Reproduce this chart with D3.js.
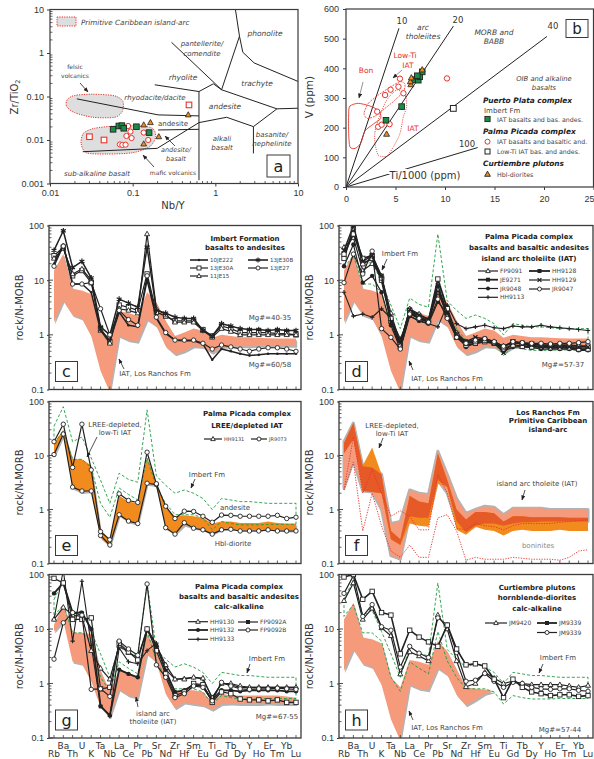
<!DOCTYPE html>
<html>
<head>
<meta charset="utf-8">
<script src="https://cdn.jsdelivr.net/npm/d3@7"></script>
<style>
  body { margin: 0; background: #fff; }
  svg { display: block; font-family: "DejaVu Sans", Verdana, sans-serif; }
</style>
</head>
<body>
<svg id="fig" width="594" height="759"></svg>
<script>
// ---------------- shared ----------------
const elements = ["Rb","Ba","Th","U","K","Ta","Nb","La","Ce","Pr","Pb","Sr","Nd","Zr","Hf","Sm","Eu","Ti","Gd","Tb","Dy","Y","Ho","Er","Tm","Yb","Lu"];
const spiderTicks = [0.1, 1, 10, 100];
const spiderTickLabels = ["0.1", "1", "10", "100"];

// ---------------- panel a : Nb/Y vs Zr/TiO2 ----------------
const aXTicks = [0.01, 0.1, 1, 10];
const aXTickLabels = ["0.01", "0.1", "1", "10"];
const aYTicks = [0.001, 0.01, 0.1, 1, 10];
const aYTickLabels = ["0.001", "0.01", "0.10", "1", "10"];
const aImbertNbY  = [0.058, 0.068, 0.074, 0.078, 0.111, 0.158];
const aImbertZrTi = [0.0176, 0.021, 0.0214, 0.0186, 0.0202, 0.0148];
const aPalmaNbY   = [0.088, 0.094, 0.084, 0.097, 0.070, 0.075, 0.082, 0.154, 0.136];
const aPalmaZrTi  = [0.021, 0.0156, 0.0124, 0.0111, 0.0079, 0.0077, 0.0078, 0.010, 0.0148];
const aLowTiNbY   = [0.030, 0.045, 0.48];
const aLowTiZrTi  = [0.0119, 0.010, 0.064];
const aHblNbY     = [0.136, 0.164, 0.136, 0.207, 0.47];
const aHblZrTi    = [0.0222, 0.0251, 0.0081, 0.0119, 0.0378];
const aFelsicField = [[0.0161,0.0838],[0.0197,0.1054],[0.033,0.113],[0.0604,0.1036],[0.0763,0.0767],[0.0748,0.0451],[0.0604,0.0333],[0.033,0.0333],[0.0197,0.0428],[0.0159,0.0588]];
const aMaficField  = [[0.0238,0.00838],[0.0254,0.01426],[0.0346,0.0186],[0.0633,0.021],[0.1216,0.021],[0.1734,0.0186],[0.19,0.0119],[0.161,0.00702],[0.1,0.0051],[0.0479,0.00475],[0.0274,0.0051]];
const aBoundaries = [
  [[1.75,10],[1.96,2.43],[2.15,1.04],[2.95,0.59],[10,0.222]],
  [[1.96,2.43],[1.19,0.143]],
  [[0.295,1.76],[1.19,0.143],[5.56,0.052]],
  [[0.634,0.130],[0.946,0.196],[1.19,0.143]],
  [[0.185,0.186],[0.634,0.130]],
  [[0.0211,0.0883],[0.203,0.0378],[0.634,0.0358]],
  [[0.634,0.130],[0.634,0.00119]],
  [[0.0249,0.00538],[0.198,0.00642],[0.634,0.0251],[1.37,0.0333],[2.89,0.0203],[5.56,0.052],[10,0.0538]],
  [[0.203,0.017],[0.634,0.0176]],
  [[2.89,0.0203],[2.89,0.00492]]
];

// ---------------- panel b : Ti/1000 vs V ----------------
const bXTicks = [0, 5, 10, 15, 20, 25];
const bYTicks = [0, 100, 200, 300, 400, 500, 600];
const bImbertTi = [4.04, 5.62, 6.9, 7.3, 7.45, 7.7, 7.2];
const bImbertV  = [225, 271, 362, 360, 372, 388, 375];
const bPalmaTi  = [5.45, 5.3, 4.5, 3.95, 5.8, 3.15, 3.25, 3.6, 4.4, 10.2];
const bPalmaV   = [365, 338, 328, 310, 316, 254, 203, 210, 212, 366];
const bLowTiTi  = [10.84];
const bLowTiV   = [265];
const bHblTi    = [4.1, 6.55, 6.5, 6.6, 7.7];
const bHblV     = [178, 345, 355, 368, 395];
const bRatios    = [10, 20, 40, 100];
const bRatioEnds = [5.35, 10.85, 20.3, 13.3];
const bBonField   = [[0.40,273],[1.25,282],[2.42,273],[3.37,256],[3.5,231],[2.76,212],[1.92,189],[1.48,147],[0.91,130],[0.40,135],[0.27,180],[0.27,248]];
const bLowTiField = [[1.82,248],[2.26,282],[3.27,310],[4.44,336],[5.45,355],[5.96,347],[5.79,321],[4.95,293],[3.94,265],[2.93,239],[2.15,231]];
const bIATField   = [[2.93,147],[2.93,186],[3.37,237],[4.11,293],[5.12,327],[5.96,310],[6.13,271],[5.79,237],[5.45,180],[4.78,135],[4.11,104],[3.27,107]];

// ---------------- spider diagrams (rock / N-MORB) ----------------
const losRanchosUpper = [15,30,7,6.5,5.5, 1.3,0.85,2.7,2.5,2.2, 6,3.9,1.8,0.95,1.1, 1.3,1.2,0.88,1.0,0.95, 0.9,0.9,0.88,0.87,0.86, 0.86,0.86];
const losRanchosLower = [1.7,4.2,2.3,2.0,0.95, 0.22,0.09,0.95,0.8,0.75, 1.9,1.45,0.62,0.44,0.5, 0.62,0.6,0.47,0.6,0.62, 0.62,0.62,0.63,0.63,0.63, 0.63,0.63];
const imbertUpper = [35,80,18,22,9, 3.5,1.3,4.7,3.6,3.2, 70,4.2,2.8,2.0,2.3, 2.0,1.6,1.0,1.6,1.5, 1.4,1.4,1.35,1.3,1.3, 1.3,1.3];
const imbertLower = [17,28,8.5,8.5,6, 1.3,0.72,2.5,1.9,1.5, 9,2.6,1.3,0.8,0.8, 0.8,0.7,0.42,0.6,0.55, 0.52,0.52,0.52,0.53,0.53, 0.53,0.53];

// c: Imbert Formation
const c10JE222 = [20,45,8.5,8.5,6, 1.2,0.8,2.6,1.5,1.4, 10,2.0,1.05,0.8,0.78, 0.78,0.68,0.35,0.55,0.5, 0.45,0.42,0.43,0.45,0.45, 0.45,0.45];
const c13JE30A = [28,40,12,15,9, 1.3,0.75,3.5,3.2,2.8, 13,2.6,2.2,1.8,1.8, 1.8,1.25,0.95,1.45,1.3, 1.1,1.1,1.1,1.1,1.05, 1.05,1.0];
const c11JE15  = [25,38,13,16,10, 1.2,0.7,3.0,2.8,2.5, 70,3.0,2.3,1.7,1.7, 1.7,1.2,0.9,1.3,1.15, 1.0,1.0,1.0,1.0,1.0, 1.0,1.0];
const c13JE30B = [35,80,17,22,11, 1.4,1.0,4.5,3.8,3.2, 40,2.8,2.5,2.1,2.0, 2.0,1.2,0.95,1.6,1.45, 1.3,1.25,1.25,1.2,1.25, 1.2,1.2];
const c13JE27  = [18,42,8.5,8.5,9, 3.0,1.0,2.8,1.9,1.5, 12,2.1,1.1,0.8,0.8, 0.8,0.7,0.55,0.65,0.6, 0.55,0.5,0.55,0.58,0.58, 0.55,0.5];

// d: Palma Picada IAT
const dFP9091 = [40,60,15,20,12, 2.5,0.7,3.0,2.4,1.9, 6,2.5,1.1,0.75,0.8, 0.85,0.75,0.62,0.72,0.68, 0.62,0.6,0.6,0.6,0.6, 0.55,0.55];
const dJE9271 = [25,90,20,25,10, 1.8,0.6,2.6,2.0,1.7, 7,2.2,0.9,0.65,0.7, 0.75,0.7,0.55,0.65,0.62, 0.6,0.6,0.58,0.58,0.58, 0.55,0.55];
const dJR9048 = [18,45,9,12,6, 1.5,0.55,2.2,1.8,1.6, 4,2.5,1.0,0.6,0.7, 0.75,0.7,0.5,0.6,0.6, 0.58,0.55,0.55,0.55,0.55, 0.52,0.52];
const dHH9113 = [6,2.2,2.4,2.1,3, 2.0,0.85,2.2,1.8,1.6, 1.4,3.5,1.6,1.3,1.4, 1.5,1.35,1.3,1.45,1.4, 1.4,1.5,1.4,1.35,1.3, 1.25,1.2];
const dHH9128 = [30,70,25,28,11, 2.0,0.65,2.8,2.1,1.8, 10.5,3.0,1.0,0.7,0.75, 0.8,0.72,0.6,0.75,0.7, 0.68,0.65,0.65,0.65,0.65, 0.62,0.62];
const dHH9129 = [35,100,22,28,12, 1.7,0.7,2.9,2.3,1.9, 8,2.5,1.0,0.75,0.9, 0.85,0.72,0.47,0.72,0.68, 0.65,0.6,0.6,0.6,0.6, 0.6,0.6];
const dJR9047 = [9,30,13,34,1.3, 0.9,0.55,2.4,2.0,1.7, 4.5,2.0,0.9,0.7,0.8, 0.85,0.75,0.62,0.75,0.72, 0.7,0.7,0.68,0.7,0.7, 0.72,0.75];

// e: LREE-depleted IAT
const eFieldUpper = [17,30,8.5,8.5,6.5, 0.42,0.28,1.8,1.4,1.3, 9,3.0,1.1,0.75,0.78, 0.75,0.7,0.55,0.6,0.6, 0.56,0.56,0.56,0.6,0.56, 0.55,0.55];
const eFieldLower = [10,24,2.5,2.1,2.2, 0.3,0.21,0.78,0.6,0.54, 3.0,2.8,0.45,0.36,0.52, 0.46,0.43,0.36,0.44,0.45, 0.42,0.42,0.42,0.44,0.42, 0.41,0.41];
const eJR9073 = [18,38,6,38,5.4, 0.39,0.275,1.95,1.47,1.35, 11.5,3.0,1.15,0.68,0.93, 0.92,0.75,0.58,0.79,0.78, 0.75,0.75,0.75,0.75,0.78, 0.68,0.72];
const eHH9131 = [10.4,25,2.6,2.2,2.2, 0.33,0.22,0.8,0.61,0.55, 3.06,2.9,0.46,0.35,0.57, 0.45,0.42,0.35,0.42,0.43, 0.4,0.4,0.4,0.42,0.4, 0.4,0.4];

// f: Los Ranchos Fm fields
const fIATUpper = [18,40,6.3,6,4.5, 0.55,0.6,2.3,2.0,1.9, 12,4.5,1.6,0.85,1.0, 1.15,1.1,0.8,1.05,1.05, 1.05,1.05,1.0,1.0,1.0, 1.0,1.0];
const fIATLower = [2.5,8,2.2,2.1,1.0, 0.14,0.12,0.75,0.7,0.7, 3.5,2.0,0.6,0.38,0.5, 0.55,0.55,0.5,0.55,0.58, 0.58,0.6,0.6,0.6,0.6, 0.6,0.6];
const fLowTiUpper = [17,40,6.5,14,4.5, 0.4,0.28,1.8,1.4,1.3, 11,3.5,1.0,0.65,0.9, 0.9,0.85,0.6,0.75,0.75, 0.72,0.72,0.72,0.72,0.7, 0.7,0.7];
const fLowTiLower = [11,20,2.2,2.1,2.0, 0.28,0.22,0.55,0.5,0.48, 3.0,2.6,0.42,0.34,0.48, 0.42,0.4,0.33,0.4,0.42, 0.4,0.4,0.4,0.42,0.4, 0.4,0.4];
const fBonUpper = [2.3,22,2.0,5.5,2.0, 0.75,0.95,0.75,0.42,0.42, 4.5,2.0,0.45,0.42,0.55, 0.5,0.48,0.42,0.5,0.55, 0.55,0.55,0.55,0.58,0.6, 0.62,0.65];
const fBonLower = [2.3,7.5,0.4,2.0,0.5, 0.17,0.13,0.22,0.13,0.13, 0.7,0.8,0.4,0.115,0.13, 0.12,0.12,0.12,0.13,0.125, 0.12,0.12,0.12,0.115,0.13, 0.17,0.18];

// g: Palma Picada calc-alkaline
const gBandUpper = [12,28,8.5,8.5,8, 1.7,0.7,1.8,1.6,1.3, 8,4,1.3,0.7,0.75, 0.75,0.7,0.45,0.65,0.6, 0.6,0.6,0.6,0.6,0.6, 0.58,0.55];
const gBandLower = [9,14,2.5,2.3,1.1, 0.37,0.24,0.78,0.6,0.55, 3.5,2.5,0.65,0.35,0.45, 0.42,0.4,0.33,0.42,0.43, 0.42,0.42,0.42,0.43,0.42, 0.42,0.42];
const gHH9130  = [15,25,18,17,4, 1.9,1.2,5.0,3.7,3.0, 10,5.0,2.2,1.2,1.2, 1.3,1.25,0.55,1.0,1.0, 0.9,0.85,0.85,0.85,0.85, 0.85,0.85];
const gHH9132  = [45,70,20,20,10, 0.38,0.26,1.8,1.5,1.3, 10,5.0,1.7,0.7,0.75, 0.95,0.9,0.5,0.75,0.75, 0.72,0.75,0.75,0.75,0.75, 0.72,0.72];
const gHH9133  = [15,120,6,75,5, 0.4,0.25,4.5,2.5,2.3, 4,5.5,1.8,1.2,1.25, 1.3,1.2,0.55,1.0,0.95, 0.85,0.85,0.85,0.85,0.85, 0.85,0.85];
const gFP9092A = [85,70,15,15,16, 0.8,0.85,5.5,3.8,2.7, 10,4.0,1.5,0.6,0.7, 1.0,0.95,0.45,0.7,0.65, 0.52,0.5,0.5,0.48,0.5, 0.45,0.45];
const gFP9092B = [2.8,13,20,18,0.78, 0.8,0.58,6.0,4.3,3.3, 67,2.2,1.3,0.55,0.65, 0.9,0.85,0.48,1.05,0.9, 0.8,0.78,0.8,0.8,0.82, 0.8,0.78];

// h: Curtiembre plutons
const hBandUpper = [15,30,7,6.5,5.5, 1.3,0.85,2.7,2.5,2.2, 6,3.9,1.8,0.85,0.8, 0.78,0.72];
const hBandLower = [1.7,4.2,2.3,2.0,0.95, 0.22,0.09,0.95,0.8,0.75, 1.9,1.45,0.62,0.4,0.5, 0.65,0.72];
const hJM9420   = [33,70,15,24,10.5, 7.5,1.49,3.8,3.2,2.6, 18,10,2.6,0.87,1.0, 1.6,1.25,1.0,1.1,1.0, 0.95,0.95,0.95,0.95,0.9, 0.85,0.92];
const hJM9339a  = [90,100,35,49,20, 18,3.5,9.5,7.1,5.8, 4.8,11.8,4.3,2.2,2.3, 2.1,1.2,0.55,1.2,0.85, 0.7,0.65,0.6,0.62,0.62, 0.58,0.6];
const hJM9339b  = [45,95,17,28,11, 9.5,2.0,4.8,3.6,3.0, 16,11.9,3.7,1.1,1.15, 1.53,1.1,0.85,1.05,1.0, 0.85,0.8,0.78,0.8,0.8, 0.75,0.72];

// ---------------- styling ----------------
const INK = "#222", SOFT = "#444", FRAME = "#3a3a3a";
const SALMON = "#f59b7c", SHADOW = "#b3b3b3", ORANGE = "#f28b1e", DARKORANGE = "#e65a27";
const GREEN = "#1f9d3f", RED = "#e8332b", GFIELD = "#dedede";
const SQGREEN = "#1b8c46", TRIORANGE = "#f08a1d";

const svg = d3.select("#fig");
svg.append("rect").attr("width", 594).attr("height", 759).attr("fill", "#fff");
const defs = svg.append("defs");
defs.append("marker").attr("id", "arr").attr("viewBox", "0 0 10 10")
  .attr("refX", 9).attr("refY", 5).attr("markerUnits", "userSpaceOnUse")
  .attr("markerWidth", 5).attr("markerHeight", 5).attr("orient", "auto")
  .append("path").attr("d", "M0,1L10,5L0,9z").attr("fill", INK);

function text(g, x, y, str, o = {}) {
  return g.append("text").attr("x", x).attr("y", y)
    .attr("text-anchor", o.anchor || "middle")
    .attr("font-size", o.size || 7)
    .attr("font-style", o.italic ? "italic" : null)
    .attr("font-weight", o.bold ? "bold" : null)
    .attr("fill", o.color || SOFT)
    .text(str);
}
function arrow(g, x1, y1, x2, y2, color) {
  g.append("line").attr("x1", x1).attr("y1", y1).attr("x2", x2).attr("y2", y2)
    .attr("stroke", color || INK).attr("stroke-width", 0.8).attr("marker-end", "url(#arr)");
}
function minorTicks(lo, hi) {
  const out = [];
  for (let e = Math.floor(Math.log10(lo)); e < Math.log10(hi); e++)
    for (let k = 2; k <= 9; k++) { const v = k * Math.pow(10, e); if (v > lo && v < hi) out.push(v); }
  return out;
}
// data symbols
function mark(sel, type, cx, cy, o = {}) {
  const r = o.r || 2.3, sw = o.sw || 0.9, st = o.stroke || INK;
  const t = `translate(${cx},${cy})`;
  switch (type) {
    case "circle":
      sel.append("circle").attr("cx", cx).attr("cy", cy).attr("r", r).attr("fill", o.fill || "#fff").attr("stroke", st).attr("stroke-width", sw); break;
    case "dot":
      sel.append("circle").attr("cx", cx).attr("cy", cy).attr("r", r * 0.6).attr("fill", INK); break;
    case "fdot":
      sel.append("circle").attr("cx", cx).attr("cy", cy).attr("r", r).attr("fill", INK); break;
    case "square":
      sel.append("rect").attr("x", cx - r).attr("y", cy - r).attr("width", 2 * r).attr("height", 2 * r)
        .attr("fill", o.fill || "#fff").attr("stroke", st).attr("stroke-width", sw); break;
    case "fsquare":
      sel.append("rect").attr("x", cx - r).attr("y", cy - r).attr("width", 2 * r).attr("height", 2 * r).attr("fill", INK); break;
    case "triangle":
      sel.append("path").attr("transform", t)
        .attr("d", `M0,${-r * 1.25}L${r * 1.15},${r * 0.8}L${-r * 1.15},${r * 0.8}Z`)
        .attr("fill", o.fill || "#fff").attr("stroke", st).attr("stroke-width", sw); break;
    case "asterisk": {
      const a = r * 1.3, b = a * 0.866, h = a * 0.5;
      sel.append("path").attr("transform", t)
        .attr("d", `M0,${-a}V${a}M${-b},${-h}L${b},${h}M${-b},${h}L${b},${-h}`)
        .attr("stroke", INK).attr("stroke-width", 1.2).attr("fill", "none"); break;
    }
    case "plus":
      sel.append("path").attr("transform", t).attr("d", `M${-r},0H${r}M0,${-r}V${r}`)
        .attr("stroke", INK).attr("stroke-width", 1.1).attr("fill", "none"); break;
    case "times": {
      const a = r * 0.95;
      sel.append("path").attr("transform", t).attr("d", `M${-a},${-a}L${a},${a}M${-a},${a}L${a},${-a}`)
        .attr("stroke", INK).attr("stroke-width", 1.3).attr("fill", "none"); break;
    }
  }
}

// ================= panel a =================
(function () {
  const L = 50, R = 298, T = 9.5, B = 183.5;
  const g = svg.append("g");
  const x = d3.scaleLog().domain([0.01, 10]).range([L, R]);
  const y = d3.scaleLog().domain([0.001, 10]).range([B, T]);
  defs.append("clipPath").attr("id", "clip-a").append("rect").attr("x", L).attr("y", T).attr("width", R - L).attr("height", B - T);
  const body = g.append("g").attr("clip-path", "url(#clip-a)");
  const field = d3.line().x(d => x(d[0])).y(d => y(d[1])).curve(d3.curveCardinalClosed.tension(0.2));
  [aFelsicField, aMaficField].forEach(f => {
    body.append("path").datum(f).attr("d", field).attr("fill", GFIELD)
      .attr("stroke", RED).attr("stroke-width", 1).attr("stroke-dasharray", "1.2,1.2");
  });
  const bl = d3.line().x(d => x(d[0])).y(d => y(d[1]));
  aBoundaries.forEach(b => body.append("path").datum(b).attr("d", bl).attr("fill", "none").attr("stroke", INK).attr("stroke-width", 1));

  // labels of the classification fields
  text(g, 75, 69, "felsic", { size: 6 });
  text(g, 75, 78, "volcanics", { size: 6 });
  arrow(g, 80, 83, 88, 92);
  text(g, 155, 99.5, "rhyodacite/dacite", { size: 7, italic: true });
  text(g, 173, 126, "andesite", { size: 7 });
  text(g, 176, 152, "andesite/", { size: 6.5, italic: true });
  text(g, 176, 161, "basalt", { size: 6.5, italic: true });
  arrow(g, 175, 146, 165, 136);
  text(g, 173, 174.5, "mafic volcanics", { size: 6 });
  arrow(g, 154, 167, 143, 155);
  text(g, 97, 175.5, "sub-alkaline basalt", { size: 7, italic: true });
  text(g, 183, 79.5, "rhyolite", { size: 7.5, italic: true });
  text(g, 202, 45.5, "pantellerite/", { size: 7, italic: true });
  text(g, 202, 55.5, "comendite", { size: 7, italic: true });
  text(g, 265, 35.5, "phonolite", { size: 7.5, italic: true });
  text(g, 257, 85.5, "trachyte", { size: 7.5, italic: true });
  text(g, 225, 108.5, "andesite", { size: 7.5, italic: true });
  text(g, 222, 140.5, "alkali", { size: 7, italic: true });
  text(g, 222, 150, "basalt", { size: 7, italic: true });
  text(g, 272, 136.5, "basanite/", { size: 7, italic: true });
  text(g, 272, 145.5, "nephelinite", { size: 7, italic: true });

  // legend
  g.append("rect").attr("x", 57).attr("y", 17).attr("width", 19).attr("height", 9)
    .attr("fill", GFIELD).attr("stroke", RED).attr("stroke-width", 1).attr("stroke-dasharray", "1.2,1.2");
  text(g, 81, 25, "Primitive Caribbean island-arc", { size: 7.2, italic: true, anchor: "start" });

  // points
  aLowTiNbY.forEach((v, i) => mark(body, "square", x(v), y(aLowTiZrTi[i]), { r: 2.8, stroke: RED, sw: 1.1 }));
  aPalmaNbY.forEach((v, i) => mark(body, "circle", x(v), y(aPalmaZrTi[i]), { r: 2.6, stroke: RED, sw: 1 }));
  aImbertNbY.forEach((v, i) => mark(body, "square", x(v), y(aImbertZrTi[i]), { r: 2.8, fill: SQGREEN, stroke: INK, sw: 0.9 }));
  aHblNbY.forEach((v, i) => mark(body, "triangle", x(v), y(aHblZrTi[i]), { r: 2.5, fill: TRIORANGE, stroke: INK, sw: 0.8 }));

  // frame + axes
  g.append("rect").attr("x", L).attr("y", T).attr("width", R - L).attr("height", B - T).attr("fill", "none").attr("stroke", FRAME).attr("stroke-width", 1.2);
  const xa = g.append("g").attr("transform", `translate(0,${B})`)
    .call(d3.axisBottom(x).tickValues(aXTicks).tickFormat((d, i) => aXTickLabels[i]).tickSize(3).tickPadding(3));
  const ya = g.append("g").attr("transform", `translate(${L},0)`)
    .call(d3.axisLeft(y).tickValues(aYTicks).tickFormat((d, i) => aYTickLabels[i]).tickSize(3).tickPadding(3));
  [xa, ya].forEach(a => { a.select(".domain").remove(); a.selectAll("text").attr("font-size", 9).attr("fill", "#333").attr("font-family", null); a.selectAll("line").attr("stroke", FRAME); });
  minorTicks(0.01, 10).forEach(v => g.append("line").attr("x1", x(v)).attr("x2", x(v)).attr("y1", B).attr("y2", B - 2.5).attr("stroke", FRAME).attr("stroke-width", 0.8));
  minorTicks(0.001, 10).forEach(v => g.append("line").attr("x1", L).attr("x2", L + 2.5).attr("y1", y(v)).attr("y2", y(v)).attr("stroke", FRAME).attr("stroke-width", 0.8));
  text(g, 173, 209, "Nb/Y", { size: 10, color: "#333" });
  const yl = g.append("text").attr("transform", "translate(18,97) rotate(-90)").attr("text-anchor", "middle").attr("font-size", 10).attr("fill", "#333");
  yl.append("tspan").text("Zr/TiO");
  yl.append("tspan").attr("font-size", 6.5).attr("dy", 2).text("2");

  g.append("rect").attr("x", 267).attr("y", 155).attr("width", 23).attr("height", 22).attr("fill", "#fff").attr("stroke", FRAME).attr("stroke-width", 1);
  text(g, 278.5, 171.5, "a", { size: 16, color: INK });
})();

// ================= panel b =================
(function () {
  const L = 346, R = 593.5, T = 9, B = 187;
  const g = svg.append("g");
  const x = d3.scaleLinear().domain([0, 25]).range([L, R]);
  const y = d3.scaleLinear().domain([0, 600]).range([B, T]);
  defs.append("clipPath").attr("id", "clip-b").append("rect").attr("x", L).attr("y", T).attr("width", R - L).attr("height", B - T);
  const body = g.append("g").attr("clip-path", "url(#clip-b)");

  // Ti/V reference lines
  bRatios.forEach((r, i) => {
    const xe = bRatioEnds[i];
    body.append("line").attr("x1", x(0)).attr("y1", y(0)).attr("x2", x(xe)).attr("y2", y(xe * 1000 / r))
      .attr("stroke", INK).attr("stroke-width", 1);
  });
  text(g, 402, 24, "10", { size: 8.5, color: "#333" });
  text(g, 458, 23, "20", { size: 8.5, color: "#333" });
  text(g, 553, 29, "40", { size: 8.5, color: "#333" });
  text(g, 467, 147, "100", { size: 8.5, color: "#333" });

  // fields
  const fl = d3.line().x(d => x(d[0])).y(d => y(d[1])).curve(d3.curveCardinalClosed.tension(0.3));
  body.append("path").datum(bBonField).attr("d", fl).attr("fill", "none").attr("stroke", RED).attr("stroke-width", 0.9);
  body.append("path").datum(bLowTiField).attr("d", fl).attr("fill", "none").attr("stroke", RED).attr("stroke-width", 0.8).attr("stroke-dasharray", "2,1");
  body.append("path").datum(bIATField).attr("d", fl).attr("fill", "none").attr("stroke", RED).attr("stroke-width", 0.9).attr("stroke-dasharray", "1,1.2");

  text(g, 366, 73, "Bon", { size: 7.5, color: RED });
  arrow(g, 363, 82, 359, 98, "#777");
  text(g, 405, 57.5, "Low-Ti", { size: 7.5, color: RED });
  text(g, 408, 67.5, "IAT", { size: 7.5, color: RED });
  arrow(g, 402, 70, 393, 78, "#777");
  text(g, 413, 130.5, "IAT", { size: 7.5, color: RED });
  text(g, 423, 29.5, "arc", { size: 7.5, italic: true });
  text(g, 423, 38.5, "tholeiites", { size: 7.5, italic: true });
  text(g, 494, 34.5, "MORB and", { size: 7.5, italic: true });
  text(g, 494, 43.5, "BABB", { size: 7.5, italic: true });
  text(g, 544, 80.5, "OIB and alkaline", { size: 6.8, italic: true });
  text(g, 544, 89.5, "basalts", { size: 6.8, italic: true });
  g.append("text").attr("x", 425).attr("y", 178.5).attr("text-anchor", "middle").attr("font-size", 10).attr("fill", "#333")
    .attr("stroke", "#fff").attr("stroke-width", 4).attr("paint-order", "stroke").text("Ti/1000 (ppm)");

  // points
  bLowTiTi.forEach((v, i) => mark(body, "square", x(v), y(bLowTiV[i]), { r: 2.9, stroke: INK, sw: 1 }));
  bPalmaTi.forEach((v, i) => mark(body, "circle", x(v), y(bPalmaV[i]), { r: 2.7, stroke: RED, sw: 1 }));
  bImbertTi.forEach((v, i) => mark(body, "square", x(v), y(bImbertV[i]), { r: 2.8, fill: SQGREEN, stroke: INK, sw: 0.9 }));
  bHblTi.forEach((v, i) => mark(body, "triangle", x(v), y(bHblV[i]), { r: 2.6, fill: TRIORANGE, stroke: INK, sw: 0.8 }));

  // legend
  text(g, 483, 102.5, "Puerto Plata complex", { size: 7.4, bold: true, italic: true, anchor: "start", color: INK });
  text(g, 484, 112.5, "Imbert Fm", { size: 7, anchor: "start" });
  mark(g, "square", 487.5, 119, { r: 2.6, fill: SQGREEN });
  text(g, 497, 121.5, "IAT basalts and bas. andes.", { size: 6.3, anchor: "start" });
  text(g, 483, 133.5, "Palma Picada complex", { size: 7.4, bold: true, italic: true, anchor: "start", color: INK });
  mark(g, "circle", 487.5, 141.7, { r: 2.5, stroke: RED, sw: 1 });
  text(g, 497, 144, "IAT basalts and basaltic and.", { size: 6.3, anchor: "start" });
  mark(g, "square", 487.5, 151.5, { r: 2.5, sw: 1 });
  text(g, 497, 154, "Low-Ti IAT bas. and andes.", { size: 6.3, anchor: "start" });
  text(g, 483, 166, "Curtiembre plutons", { size: 7.4, bold: true, italic: true, anchor: "start", color: INK });
  mark(g, "triangle", 487.5, 174.3, { r: 2.5, fill: TRIORANGE });
  text(g, 497, 176.5, "Hbl-diorites", { size: 6.3, anchor: "start" });

  // frame + axes
  g.append("rect").attr("x", L).attr("y", T).attr("width", R - L).attr("height", B - T).attr("fill", "none").attr("stroke", FRAME).attr("stroke-width", 1.2);
  const xa = g.append("g").attr("transform", `translate(0,${B})`)
    .call(d3.axisBottom(x).tickValues(bXTicks).tickFormat(d3.format("d")).tickSize(3).tickPadding(5.5));
  const ya = g.append("g").attr("transform", `translate(${L},0)`)
    .call(d3.axisLeft(y).tickValues(bYTicks).tickFormat(d3.format("d")).tickSize(3).tickPadding(4));
  [xa, ya].forEach(a => { a.select(".domain").remove(); a.selectAll("text").attr("font-size", 9).attr("fill", "#333").attr("font-family", null); a.selectAll("line").attr("stroke", FRAME); });
  // the last x label sits on the page edge: keep it inside
  xa.selectAll(".tick text").filter(d => d === 25).attr("text-anchor", "end").attr("dx", 0.5);
  g.append("text").attr("transform", "translate(313,97) rotate(-90)").attr("text-anchor", "middle").attr("font-size", 10.5).attr("fill", "#333").text("V (ppm)");

  g.append("rect").attr("x", 566).attr("y", 19.5).attr("width", 22).attr("height", 18).attr("fill", "#fff").attr("stroke", FRAME).attr("stroke-width", 1);
  text(g, 577, 33.5, "b", { size: 15, color: INK });
})();

// ================= spider diagrams =================
function spider(p) {
  const g = svg.append("g");
  const x = d3.scalePoint().domain(elements).range([p.L + 5, p.R - 5]);
  const y = d3.scaleLog().domain([0.1, 100]).range([p.B, p.T]);
  const cid = "clip-" + p.id;
  defs.append("clipPath").attr("id", cid).append("rect").attr("x", p.L).attr("y", p.T).attr("width", p.R - p.L).attr("height", p.B - p.T);
  const body = g.append("g").attr("clip-path", `url(#${cid})`);
  const xi = (d, i) => x(elements[i]);

  (p.fields || []).forEach(f => {
    const area = d3.area().x(xi).y0((d, i) => y(f.lower[i])).y1((d, i) => y(f.upper[i]));
    if (f.shadow) body.append("path").datum(f.upper).attr("d", area).attr("fill", SHADOW).attr("transform", "translate(1.2,2)");
    if (f.outline) body.append("path").datum(f.upper).attr("d", area).attr("fill", "none").attr("stroke", SHADOW).attr("stroke-width", 3).attr("stroke-linejoin", "round");
    body.append("path").datum(f.upper).attr("d", area).attr("fill", f.color);
  });
  (p.envelopes || []).forEach(e => {
    const pts = e.upper.map((v, i) => [x(elements[i]), y(v)])
      .concat(e.lower.map((v, i) => [x(elements[i]), y(v)]).reverse());
    body.append("path").attr("d", d3.line()(pts) + "Z").attr("fill", "none")
      .attr("stroke", GREEN).attr("stroke-width", 0.9).attr("stroke-dasharray", "3,2");
  });
  (p.dotted || []).forEach(vals => {
    body.append("path").datum(vals).attr("d", d3.line().x(xi).y(d => y(d))).attr("fill", "none")
      .attr("stroke", RED).attr("stroke-width", 0.9).attr("stroke-dasharray", "1.3,1.3");
  });
  (p.series || []).forEach(s => {
    body.append("path").datum(s.values).attr("d", d3.line().x(xi).y(d => y(d))).attr("fill", "none")
      .attr("stroke", INK).attr("stroke-width", s.w || 1.2).attr("stroke-linejoin", "round");
    s.values.forEach((v, i) => mark(body, s.sym, x(elements[i]), y(v), { r: s.r || 2.2 }));
  });

  // frame, ticks, labels
  g.append("rect").attr("x", p.L).attr("y", p.T).attr("width", p.R - p.L).attr("height", p.B - p.T)
    .attr("fill", "none").attr("stroke", FRAME).attr("stroke-width", 1.3);
  const ya = g.append("g").attr("transform", `translate(${p.L},0)`)
    .call(d3.axisLeft(y).tickValues(spiderTicks).tickFormat((d, i) => spiderTickLabels[i]).tickSize(2).tickPadding(3));
  ya.select(".domain").remove();
  ya.selectAll("text").attr("font-size", 9).attr("fill", "#333").attr("font-family", null);
  ya.selectAll("line").attr("stroke", FRAME);
  minorTicks(0.1, 100).forEach(v => g.append("line").attr("x1", p.L).attr("x2", p.L + 2.5).attr("y1", y(v)).attr("y2", y(v)).attr("stroke", FRAME).attr("stroke-width", 0.8));
  spiderTicks.forEach(v => g.append("line").attr("x1", p.L).attr("x2", p.L + 4).attr("y1", y(v)).attr("y2", y(v)).attr("stroke", FRAME).attr("stroke-width", 0.9));
  elements.forEach(el => g.append("line").attr("x1", x(el)).attr("x2", x(el)).attr("y1", p.B).attr("y2", p.B - 3).attr("stroke", FRAME).attr("stroke-width", 0.8));
  if (p.xlabels) {
    elements.forEach((el, i) => text(g, x(el), p.B + (i % 2 ? 11 : 19), el, { size: 9, color: "#333" }));
  }
  g.append("text").attr("transform", `translate(${p.L - 26},${(p.T + p.B) / 2}) rotate(-90)`)
    .attr("text-anchor", "middle").attr("font-size", 10).attr("fill", "#333").text("rock/N-MORB");

  // panel letter
  g.append("rect").attr("x", p.L + 6.5).attr("y", p.B - 28).attr("width", 22).attr("height", 20)
    .attr("fill", "#fff").attr("stroke", FRAME).attr("stroke-width", 1);
  text(g, p.L + 17.5, p.B - 12.5, p.id, { size: 16, color: INK });

  // title
  p.title.forEach((t, i) => text(g, p.titleX, p.titleY + i * p.titleStep, t, { size: 7, bold: true, color: INK }));
  // legend
  (p.legend || []).forEach(l => {
    g.append("line").attr("x1", l.x1).attr("x2", l.x2).attr("y1", l.y).attr("y2", l.y).attr("stroke", INK).attr("stroke-width", l.w || 1.2);
    mark(g, l.sym, (l.x1 + l.x2) / 2, l.y, { r: 2 });
    text(g, l.x2 + 2, l.y + 2, l.name, { size: l.size || 6, anchor: "start" });
  });
  (p.notes || []).forEach(n => text(g, n[0], n[1], n[2], { size: n[3] || 7, color: n[4] || SOFT }));
  (p.arrows || []).forEach(a => arrow(g, a[0], a[1], a[2], a[3]));
}

// overlap of the two Los Ranchos fields
const fOverlapUpper = fIATUpper.map((u, i) => Math.min(u, fLowTiUpper[i]));
const fOverlapLower = fIATLower.map((l, i) => Math.min(Math.max(l, fLowTiLower[i]), fOverlapUpper[i]));

const rowC = { T: 225.5, B: 389.5 }, rowE = { T: 401.5, B: 563.5 }, rowG = { T: 574.5, B: 738 };
const colL = { L: 49, R: 301 }, colR = { L: 339, R: 593 };

spider({
  id: "c", ...colL, ...rowC,
  fields: [{ upper: losRanchosUpper, lower: losRanchosLower, color: SALMON, shadow: true }],
  series: [
    { values: c13JE30A, sym: "square" },
    { values: c11JE15, sym: "triangle" },
    { values: c13JE30B, sym: "asterisk", w: 1.5 },
    { values: c10JE222, sym: "dot", w: 1.5 },
    { values: c13JE27, sym: "circle" }
  ],
  title: ["Imbert Formation", "basalts to andesites"], titleX: 245, titleY: 240.5, titleStep: 9.5,
  legend: [
    { x1: 190, x2: 208, y: 260, sym: "dot", name: "10JE222", size: 5.6, w: 1.6 },
    { x1: 190, x2: 208, y: 268, sym: "square", name: "13JE30A", size: 5.6 },
    { x1: 190, x2: 208, y: 276, sym: "triangle", name: "11JE15", size: 5.6 },
    { x1: 248, x2: 268, y: 260, sym: "asterisk", name: "13JE30B", size: 5.6, w: 1.6 },
    { x1: 248, x2: 268, y: 268, sym: "circle", name: "13JE27", size: 5.6 }
  ],
  notes: [[270, 319.5, "Mg#=40-35"], [270, 366.5, "Mg#=60/58"], [155, 375.5, "IAT, Los Ranchos Fm"]],
  arrows: [[124, 369, 119, 359]]
});

spider({
  id: "d", ...colR, ...rowC,
  fields: [{ upper: losRanchosUpper, lower: losRanchosLower, color: SALMON, shadow: true }],
  envelopes: [{ upper: imbertUpper, lower: imbertLower }],
  series: [
    { values: dHH9113, sym: "plus", w: 1.1 },
    { values: dJR9048, sym: "fdot" },
    { values: dFP9091, sym: "triangle" },
    { values: dJE9271, sym: "square", w: 1.8 },
    { values: dHH9128, sym: "square", w: 1.8 },
    { values: dHH9129, sym: "times", w: 1.4 },
    { values: dJR9047, sym: "circle" }
  ],
  title: ["Palma Picada complex", "basalts and basaltic andesites", "island arc tholeiite (IAT)"],
  titleX: 529, titleY: 238.5, titleStep: 11,
  legend: [
    { x1: 478, x2: 498, y: 271, sym: "triangle", name: "FP9091" },
    { x1: 478, x2: 498, y: 279.7, sym: "fsquare", name: "JE9271", w: 1.8 },
    { x1: 478, x2: 498, y: 288.5, sym: "fdot", name: "JR9048" },
    { x1: 478, x2: 498, y: 297.3, sym: "plus", name: "HH9113" },
    { x1: 529, x2: 550, y: 271, sym: "fsquare", name: "HH9128", w: 1.8 },
    { x1: 529, x2: 550, y: 280, sym: "times", name: "HH9129" },
    { x1: 529, x2: 550, y: 289, sym: "circle", name: "JR9047" }
  ],
  notes: [[400, 256, "Imbert Fm"], [563, 366.5, "Mg#=57-37"], [447, 380.5, "IAT, Los Ranchos Fm"]],
  arrows: [[387, 259, 382, 270], [413, 370, 409, 361]]
});

spider({
  id: "e", ...colL, ...rowE,
  fields: [{ upper: eFieldUpper, lower: eFieldLower, color: ORANGE, shadow: true }],
  envelopes: [{ upper: imbertUpper, lower: imbertLower }],
  series: [
    { values: eHH9131, sym: "circle" },
    { values: eJR9073, sym: "circle" }
  ],
  title: ["Palma Picada complex", "LREE/depleted IAT"], titleX: 247, titleY: 416, titleStep: 11.5,
  legend: [
    { x1: 204, x2: 222, y: 439, sym: "triangle", name: "HH9131", size: 5 },
    { x1: 251, x2: 267, y: 439, sym: "circle", name: "JR9073", size: 5 }
  ],
  notes: [[115, 426.5, "LREE-depleted,"], [115, 435, "low-Ti IAT"], [207, 476.5, "Imbert Fm"],
          [235, 509.5, "andesite"], [233, 545.5, "Hbl-diorite"]],
  arrows: [[97, 437, 87, 457], [195, 479, 191, 488]]
});

spider({
  id: "f", ...colR, ...rowE,
  fields: [
    { upper: fIATUpper, lower: fIATLower, color: SALMON, outline: true },
    { upper: fLowTiUpper, lower: fLowTiLower, color: ORANGE },
    { upper: fOverlapUpper, lower: fOverlapLower, color: DARKORANGE }
  ],
  dotted: [fBonUpper, fBonLower],
  title: ["Los Ranchos Fm", "Primitive Caribbean", "island-arc"], titleX: 548, titleY: 415, titleStep: 8.3,
  notes: [[392, 427.5, "LREE-depleted,"], [392, 436, "low-Ti IAT"], [537, 485.5, "island arc tholeite (IAT)"],
          [538, 547.5, "boninites", 7, "#8a8a8a"]],
  arrows: [[383, 438, 379, 448], [525, 490, 522, 500]]
});

spider({
  id: "g", ...colL, ...rowG, xlabels: true,
  fields: [{ upper: gBandUpper, lower: gBandLower, color: SALMON, shadow: true }],
  envelopes: [{ upper: imbertUpper, lower: imbertLower }],
  series: [
    { values: gHH9133, sym: "plus", w: 1.1 },
    { values: gHH9130, sym: "triangle" },
    { values: gHH9132, sym: "fdot", w: 1.8 },
    { values: gFP9092A, sym: "square" },
    { values: gFP9092B, sym: "circle" }
  ],
  title: ["Palma Picada complex", "basalts and basaltic andesites", "calc-alkaline"], titleX: 239, titleY: 588.5, titleStep: 10,
  legend: [
    { x1: 188, x2: 208, y: 621.7, sym: "triangle", name: "HH9130" },
    { x1: 188, x2: 208, y: 630, sym: "fdot", name: "HH9132", w: 1.8 },
    { x1: 188, x2: 208, y: 639.3, sym: "plus", name: "HH9133" },
    { x1: 238, x2: 258, y: 622, sym: "fsquare", name: "FP9092A" },
    { x1: 238, x2: 258, y: 630, sym: "circle", name: "FP9092B" }
  ],
  notes: [[267, 660.5, "Imbert Fm"], [153, 715.5, "island arc"], [153, 724, "tholeiite (IAT)"], [277, 718.5, "Mg#=67-55"]],
  arrows: [[250, 664, 247, 673], [138, 707, 136, 697]]
});

spider({
  id: "h", ...colR, ...rowG, xlabels: true,
  fields: [{ upper: hBandUpper, lower: hBandLower, color: SALMON, shadow: true }],
  envelopes: [{ upper: imbertUpper, lower: imbertLower }],
  series: [
    { values: hJM9420, sym: "triangle" },
    { values: hJM9339b, sym: "circle" },
    { values: hJM9339a, sym: "square", w: 1.6 }
  ],
  title: ["Curtiembre plutons", "hornblende-diorites", "calc-alkaline"], titleX: 537, titleY: 589.5, titleStep: 10.8,
  legend: [
    { x1: 485, x2: 507, y: 623, sym: "triangle", name: "JM9420" },
    { x1: 537, x2: 557, y: 623, sym: "fsquare", name: "JM9339", w: 1.8 },
    { x1: 537, x2: 557, y: 632.5, sym: "circle", name: "JM9339" }
  ],
  notes: [[558, 659.5, "Imbert Fm"], [447, 729.5, "IAT, Los Ranchos Fm"], [560, 731.5, "Mg#=57-44"]],
  arrows: [[543, 664, 539, 673], [413, 720, 409, 711]]
});
</script>
</body>
</html>
